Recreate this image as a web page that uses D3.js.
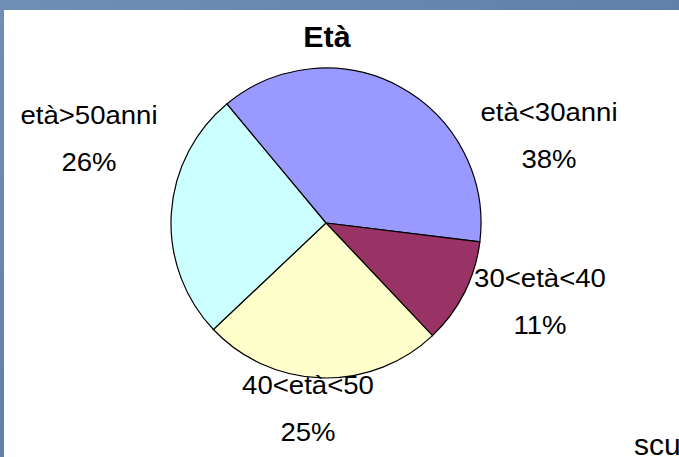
<html>
<head>
    <style>
        body { margin: 0; }
        .lbl { font-family: Arial, "Liberation Sans", sans-serif; font-size: 26px; fill: #000; text-anchor: middle; }
        .title { font-family: Arial, "Liberation Sans", sans-serif; font-size: 29px; font-weight: bold; text-anchor: middle; }
    </style>
    <script src="https://d3js.org/d3.v7.min.js"></script>
</head>
<body>
    <svg width="679" height="457"></svg>
    <script>
        // data
        var categories = ["età<30anni", "30<età<40", "40<età<50", "età>50anni"];
        var values = [38, 11, 25, 26];
        var sliceColors = ["#9999ff", "#993366", "#ffffcc", "#ccffff"];

        // label placement (centre x, first baseline y)
        var labelAt = [[549, 121], [540, 287], [308, 394], [89, 124]];

        var svg = d3.select("svg"),
            width = +svg.attr("width"),
            height = +svg.attr("height"),
            radius = 155;

        // slide background
        var defs = svg.append("defs");
        var grad = defs.append("linearGradient").attr("id", "bg")
                       .attr("x1", 0).attr("y1", 0).attr("x2", 1).attr("y2", 1);
        grad.append("stop").attr("offset", 0).attr("stop-color", "#6f8fb5");
        grad.append("stop").attr("offset", 1).attr("stop-color", "#4f739f");
        svg.append("rect").attr("width", width).attr("height", height).attr("fill", "url(#bg)");
        svg.append("rect").attr("x", 4).attr("y", 10)
           .attr("width", width - 4).attr("height", height - 10).attr("fill", "#fff");

        var g = svg.append("g").attr("transform", "translate(326,223)");

        var color = d3.scaleOrdinal().domain(categories).range(sliceColors);

        var start = -39.8 * Math.PI / 180;
        var pie = d3.pie().sort(null)
                    .startAngle(start).endAngle(start + 2 * Math.PI)
                    .value(function(d, i) { return values[i]; });

        var path = d3.arc().outerRadius(radius).innerRadius(0);

        g.selectAll(".arc")
         .data(pie(categories))
         .enter().append("path")
         .attr("class", "arc")
         .attr("d", path)
         .attr("fill", function(d) { return color(d.data); })
         .attr("stroke", "#000")
         .attr("stroke-width", 1.2);

        var total = d3.sum(values);
        categories.forEach(function(c, i) {
            var t = svg.append("text").attr("class", "lbl")
                       .attr("transform", "translate(" + labelAt[i][0] + "," + labelAt[i][1] + ") scale(1.06,1)");
            t.append("tspan").attr("x", 0).attr("y", 0).text(c);
            t.append("tspan").attr("x", 0).attr("y", 47)
             .text(Math.round(values[i] / total * 100) + "%");
        });

        svg.append("text").attr("class", "title")
           .attr("transform", "translate(327,47) scale(1.05,1)")
           .text("Età");

        // footer text, cut by the right edge as in the original slide
        svg.append("text").attr("class", "lbl")
           .style("text-anchor", "start").style("font-size", "30px")
           .attr("transform", "translate(634,455)")
           .text("scuola");
    </script>
</body>
</html>
